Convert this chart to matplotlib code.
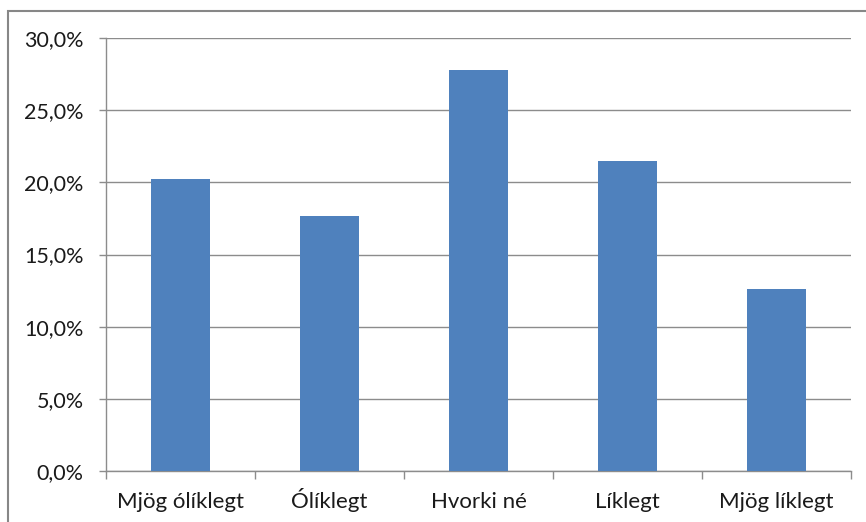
import matplotlib.pyplot as plt
from matplotlib.patches import Rectangle
from matplotlib.ticker import FixedLocator

categories = ['Mjög ólíklegt', 'Ólíklegt', 'Hvorki né', 'Líklegt', 'Mjög líklegt']
shares = [20.2, 17.7, 27.8, 21.5, 12.6]
y_ticks = [0, 5, 10, 15, 20, 25, 30]
y_labels = ['%.1f%%' % t for t in y_ticks]
y_labels = [s.replace('.', ',') for s in y_labels]

plt.rcParams['font.family'] = ['Lato', 'DejaVu Sans']
grey = '#8c8c8c'

fig = plt.figure(figsize=(8.66, 5.22), dpi=100)
ax = fig.add_axes([106/866, 51/522, 745/866, 433/522])

x = range(len(categories))
ax.bar(x, shares, width=0.4, color='#4f81bd', zorder=3)

ax.set_xlim(-0.5, len(categories) - 0.5)
ax.set_ylim(0, 30)
ax.set_yticks(y_ticks)
ax.set_yticklabels(y_labels, fontsize=15.5, color='#1a1a1a')
ax.set_xticks(list(x))
ax.set_xticklabels(categories, fontsize=16, color='#1a1a1a', va='baseline')
ax.xaxis.set_minor_locator(FixedLocator([i - 0.5 for i in range(len(categories) + 1)]))

ax.tick_params(axis='y', length=5, width=1, color=grey, pad=11)
ax.tick_params(axis='x', which='major', length=0, pad=27)
ax.tick_params(axis='x', which='minor', length=5.5, width=1, color=grey)

ax.grid(axis='y', color=grey, linewidth=1, zorder=0)
for side in ['top', 'right']:
    ax.spines[side].set_visible(False)
for side in ['left', 'bottom']:
    ax.spines[side].set_color(grey)
    ax.spines[side].set_linewidth(1)

# chart area border, cut off at right and bottom like the screenshot
fig.patches.append(Rectangle((8/866, -0.05), 1.1, 1 - 11/522 + 0.05,
                             transform=fig.transFigure, fill=False,
                             edgecolor='#878787', linewidth=1.5))

fig.savefig('out.png', dpi=100)
